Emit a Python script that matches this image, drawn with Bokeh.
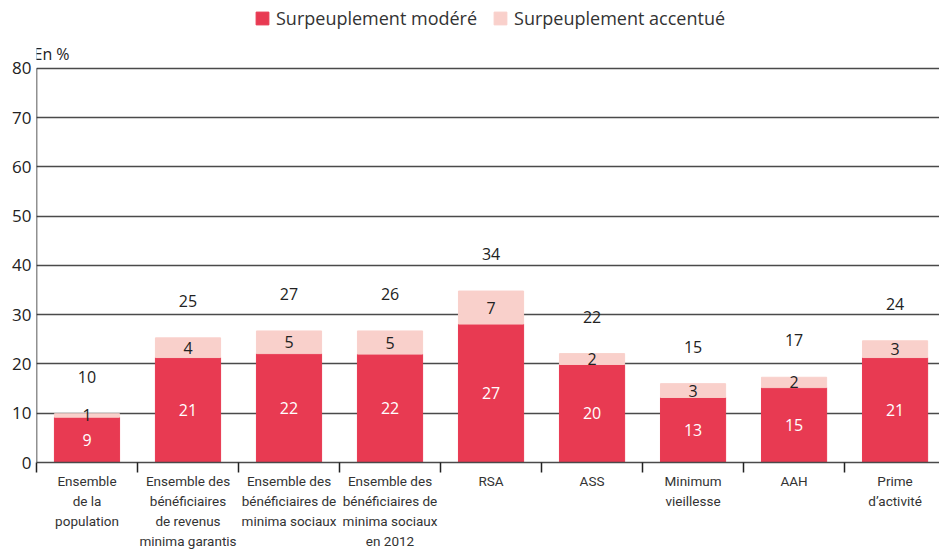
from bokeh.plotting import figure
from bokeh.models import ColumnDataSource, FixedTicker, Label, Legend, LegendItem, LabelSet
from bokeh.core.properties import value
from bokeh.embed import file_html
from bokeh.resources import INLINE

categories = ["Ensemble\nde la\npopulation",
              "Ensemble des\nbénéficiaires\nde revenus\nminima garantis",
              "Ensemble des\nbénéficiaires de\nminima sociaux",
              "Ensemble des\nbénéficiaires de\nminima sociaux\nen 2012",
              "RSA", "ASS", "Minimum\nvieillesse", "AAH", "Prime\nd\u2019activité"]
moderate = [9.2, 21.3, 22.1, 22.0, 28.1, 19.9, 13.2, 15.2, 21.3]
accentue = [0.7, 4.0, 4.6, 4.7, 6.7, 2.2, 2.8, 2.1, 3.4]
moderate_labels = ["9", "21", "22", "22", "27", "20", "13", "15", "21"]
accentue_labels = ["1", "4", "5", "5", "7", "2", "3", "2", "3"]
total_labels = ["10", "25", "27", "26", "34", "22", "15", "17", "24"]
y_ticks = [0, 10, 20, 30, 40, 50, 60, 70, 80]

RED = "#E83A52"
PINK = "#F9D0CB"
FONT = "Open Sans"
n = len(categories)
xs = [i + 0.5 for i in range(n)]
tops = [m + a for m, a in zip(moderate, accentue)]
src = ColumnDataSource(dict(
    x=xs, mod=moderate, acc=accentue, top=tops,
    mod_mid=[m / 2 for m in moderate],
    acc_mid=[m + a / 2 for m, a in zip(moderate, accentue)],
    tot_y=[t + 7.5 for t in tops],
    ml=moderate_labels, al=accentue_labels, tl=total_labels))

p = figure(width=933, height=542, output_backend="svg", toolbar_location=None,
           x_range=(0, 8.94), y_range=(0, 92.35))
p.frame_width = 903
p.frame_height = 455
p.min_border_left = 36
p.min_border_top = 7
p.min_border_right = 0
p.min_border_bottom = 0
p.outline_line_color = None
p.background_fill_color = "white"

r1 = p.vbar(x="x", bottom=0, top="mod", width=0.645, color=RED, source=src)
r2 = p.vbar(x="x", bottom="mod", top="top", width=0.645, color=PINK, source=src)

# vertical axis line limited to the 0-80 range
p.segment(x0=[0], y0=[0], x1=[0], y1=[y_ticks[-1]], line_color="#222222", line_width=1.5)

for col, ycol, colr in (("ml", "mod_mid", "white"), ("al", "acc_mid", "#222222"),
                        ("tl", "tot_y", "#222222")):
    p.add_layout(LabelSet(x="x", y=ycol, text=col, source=src, text_align="center",
                          text_baseline="middle", text_color=colr,
                          text_font=value(FONT), text_font_size="16px"))

# grid
p.xgrid.grid_line_color = None
p.ygrid.ticker = FixedTicker(ticks=y_ticks)
p.ygrid.grid_line_color = "#4a4a4a"
p.ygrid.grid_line_width = 1.3

# y axis
p.yaxis.ticker = FixedTicker(ticks=y_ticks)
p.yaxis.major_tick_line_color = None
p.yaxis.major_tick_out = 0
p.yaxis.major_tick_in = 0
p.yaxis.minor_tick_line_color = None
p.yaxis.minor_tick_out = 0
p.yaxis.axis_line_color = None
p.yaxis.major_label_text_font = FONT
p.yaxis.major_label_text_font_size = "17px"
p.yaxis.major_label_text_color = "#222222"
p.yaxis.major_label_standoff = 5

# x axis
p.xaxis.ticker = FixedTicker(ticks=xs, minor_ticks=list(range(0, n)))
p.xaxis.major_label_overrides = {x: c for x, c in zip(xs, categories)}
p.xaxis.major_tick_line_color = None
p.xaxis.major_tick_out = 0
p.xaxis.major_tick_in = 0
p.xaxis.minor_tick_line_color = "#222222"
p.xaxis.minor_tick_line_width = 1.5
p.xaxis.minor_tick_out = 10
p.xaxis.minor_tick_in = 0
p.xaxis.axis_line_color = "#4a4a4a"
p.xaxis.axis_line_width = 1.3
p.xaxis.major_label_text_font = "Roboto"
p.xaxis.major_label_text_font_size = "13.5px"
p.xaxis.major_label_text_color = "#333333"
p.xaxis.major_label_standoff = 0
p.xaxis.major_label_text_line_height = 1.25

p.add_layout(Label(x=0, y=80.6, x_offset=-3, text="En %", text_font=FONT,
                   text_font_size="16px", text_color="#222222",
                   text_baseline="bottom", text_align="left"))

legend = Legend(items=[LegendItem(label="Surpeuplement modéré", renderers=[r1]),
                       LegendItem(label="Surpeuplement accentué", renderers=[r2])],
                orientation="horizontal", location=(218, 432),
                label_text_font=FONT, label_text_font_size="18px",
                label_text_color="#333333", glyph_width=16, glyph_height=16,
                spacing=15, padding=0, margin=0, border_line_color=None,
                background_fill_alpha=0, label_standoff=6)
p.add_layout(legend, "center")

open("out.html", "w").write(file_html(p, INLINE))
